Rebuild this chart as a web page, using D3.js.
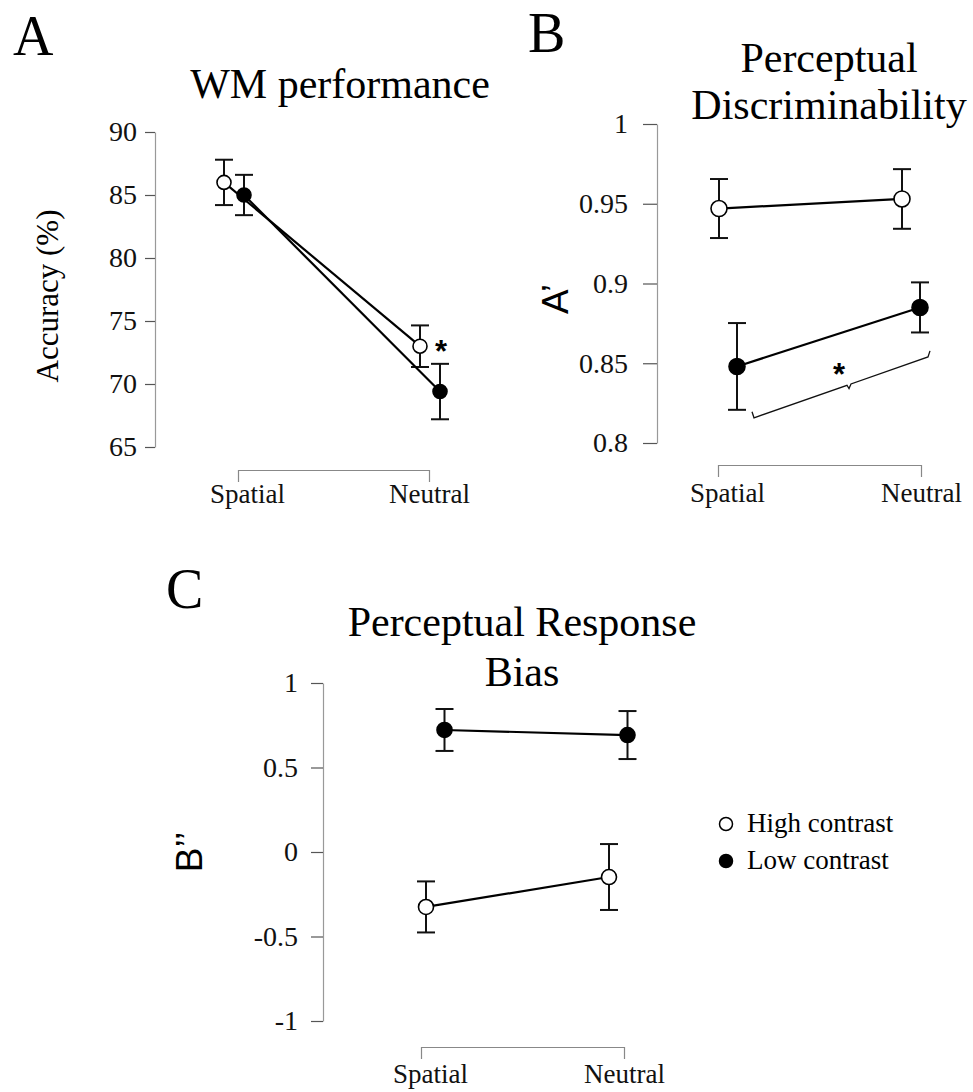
<!DOCTYPE html>
<html>
<head>
<meta charset="utf-8">
<script src="https://cdn.jsdelivr.net/npm/d3@7"></script>
<style>
  body { margin: 0; background: #fff; }
</style>
</head>
<body>
<div id="chart"></div>
<script>
// ---- data ----
const categories = ["Spatial", "Neutral"];
const legendLabels = ["High contrast", "Low contrast"];

// A: WM performance, accuracy (%)
const wmHigh = [86.0, 73.0];
const wmHighErr = [1.8, 1.65];
const wmLow = [85.0, 69.4];
const wmLowErr = [1.6, 2.2];
const wmTicks = [65, 70, 75, 80, 85, 90];

// B: perceptual discriminability, A'
const apHigh = [0.947, 0.953];
const apHighErr = [0.0185, 0.0187];
const apLow = [0.848, 0.885];
const apLowErr = [0.0272, 0.0157];
const apTicks = [0.8, 0.85, 0.9, 0.95, 1];

// C: perceptual response bias, B''
const bpHigh = [-0.325, -0.148];
const bpHighErr = [0.151, 0.195];
const bpLow = [0.722, 0.692];
const bpLowErr = [0.124, 0.142];
const bpTicks = [-1, -0.5, 0, 0.5, 1];

const serif = "'Liberation Serif', 'Times New Roman', Times, serif";
const sans = "'Liberation Sans', Arial, Helvetica, sans-serif";

const W = 973, H = 1092;
const svg = d3.select("#chart").append("svg")
  .attr("width", W)
  .attr("height", H)
  .style("display", "block");

// --- per-panel layout ---
const panels = [
  {
    letter: "A", letterPos: [13, 55],
    title: ["WM performance"], titleX: 340, titleY: [98],
    axisX: 155, yDomain: [65, 90], yRange: [447, 132], ticks: wmTicks,
    tickLen: 10, tickPad: 8,
    bracketY: 470, bracket: [238, 429], pts: [224, 420], dodge: 20, r: 7,
    labelY: 503,
    yLabel: "Accuracy (%)", yLabelFont: serif, yLabelSize: 31, yLabelPos: [58, 296],
    series: [
      { v: wmHigh, e: wmHighErr, fill: "#fff" },
      { v: wmLow, e: wmLowErr, fill: "#000" }
    ]
  },
  {
    letter: "B", letterPos: [528, 52],
    title: ["Perceptual", "Discriminability"], titleX: 829, titleY: [72, 119],
    axisX: 657, yDomain: [0.8, 1], yRange: [443, 124], ticks: apTicks,
    tickLen: 14, tickPad: 15,
    bracketY: 465, bracket: [718, 921], pts: [719, 902], dodge: 18, r: 8,
    labelY: 502,
    yLabel: "A\u2019", yLabelFont: sans, yLabelSize: 37, yLabelPos: [568, 299],
    series: [
      { v: apHigh, e: apHighErr, fill: "#fff" },
      { v: apLow, e: apLowErr, fill: "#000" }
    ]
  },
  {
    letter: "C", letterPos: [166, 608],
    title: ["Perceptual Response", "Bias"], titleX: 522, titleY: [636, 686],
    axisX: 323, yDomain: [-1, 1], yRange: [1021, 683], ticks: bpTicks,
    tickLen: 12, tickPad: 13,
    bracketY: 1047, bracket: [421, 624], pts: [426, 609], dodge: 18.5, r: 7.5,
    labelY: 1083,
    yLabel: "B\u2019\u2019", yLabelFont: sans, yLabelSize: 37, yLabelPos: [202, 852],
    series: [
      { v: bpHigh, e: bpHighErr, fill: "#fff" },
      { v: bpLow, e: bpLowErr, fill: "#000" }
    ]
  }
];

const capHalf = 9;

panels.forEach(p => {
  const g = svg.append("g");

  const y = d3.scaleLinear().domain(p.yDomain).range(p.yRange);
  const xAxisScale = d3.scalePoint().domain(categories).range(p.bracket);
  const xPts = d3.scalePoint().domain(categories).range(p.pts);
  p.y = y; p.xPts = xPts;

  // panel letter
  g.append("text")
    .attr("x", p.letterPos[0])
    .attr("y", p.letterPos[1])
    .style("font-family", serif)
    .style("font-size", "56px")
    .text(p.letter);

  // title
  g.selectAll(".title")
    .data(p.title)
    .join("text")
    .attr("class", "title")
    .attr("x", p.titleX)
    .attr("y", (d, i) => p.titleY[i])
    .attr("text-anchor", "middle")
    .style("font-family", serif)
    .style("font-size", "42px")
    .text(d => d);

  // y axis
  const yAxis = g.append("g")
    .attr("transform", `translate(${p.axisX},0)`)
    .call(d3.axisLeft(y)
      .tickValues(p.ticks)
      .tickFormat(d => String(d))
      .tickSize(p.tickLen)
      .tickSizeOuter(0)
      .tickPadding(p.tickPad));
  yAxis.select(".domain").attr("stroke", "#999").attr("stroke-width", 1.2);
  yAxis.selectAll(".tick line").attr("stroke", "#555").attr("stroke-width", 1.2);
  yAxis.selectAll(".tick text")
    .attr("x", -(p.tickLen + p.tickPad))
    .attr("fill", "#111")
    .style("font-family", serif)
    .style("font-size", "28px");

  // x "bracket" axis
  const xAxis = g.append("g")
    .attr("transform", `translate(0,${p.bracketY})`)
    .call(d3.axisBottom(xAxisScale).tickSize(12).tickSizeOuter(0));
  xAxis.select(".domain").attr("stroke", "#888").attr("stroke-width", 1.2);
  xAxis.selectAll(".tick line").attr("stroke", "#888").attr("stroke-width", 1.2);
  xAxis.selectAll(".tick text")
    .attr("y", p.labelY - p.bracketY)
    .attr("dy", 0)
    .attr("dx", d => d === "Spatial" ? 9 : 0)
    .attr("fill", "#111")
    .style("font-family", serif)
    .style("font-size", "27px");

  // y label
  g.append("text")
    .attr("transform", `translate(${p.yLabelPos[0]},${p.yLabelPos[1]}) rotate(-90)`)
    .attr("text-anchor", "middle")
    .style("font-family", p.yLabelFont)
    .style("font-size", p.yLabelSize + "px")
    .text(p.yLabel);

  const px = (i, cat) => xPts(cat) + (i === 1 ? p.dodge : 0);

  const line = d3.line()
    .x(d => d.x)
    .y(d => y(d.v));

  p.series.forEach((s, i) => {
    const pts = categories.map((c, j) => ({ x: px(i, c), v: s.v[j], e: s.e[j] }));

    g.append("path")
      .datum(pts)
      .attr("d", line)
      .attr("fill", "none")
      .attr("stroke", "#000")
      .attr("stroke-width", 2.2);

    const eb = g.append("g").selectAll("g")
      .data(pts)
      .join("g")
      .attr("stroke", "#111")
      .attr("stroke-width", 2);
    eb.append("line")
      .attr("x1", d => d.x).attr("x2", d => d.x)
      .attr("y1", d => y(d.v - d.e)).attr("y2", d => y(d.v + d.e));
    eb.append("line")
      .attr("x1", d => d.x - capHalf).attr("x2", d => d.x + capHalf)
      .attr("y1", d => y(d.v + d.e)).attr("y2", d => y(d.v + d.e));
    eb.append("line")
      .attr("x1", d => d.x - capHalf).attr("x2", d => d.x + capHalf)
      .attr("y1", d => y(d.v - d.e)).attr("y2", d => y(d.v - d.e));
    s.pts = pts;
  });

  // circles on top
  p.series.forEach(s => {
    g.append("g").selectAll("circle")
      .data(s.pts)
      .join("circle")
      .attr("cx", d => d.x)
      .attr("cy", d => y(d.v))
      .attr("r", p.r)
      .attr("fill", s.fill)
      .attr("stroke", "#000")
      .attr("stroke-width", 1.6);
  });
});

// --- significance marks ---
const star = (x, yCenter) => svg.append("text")
  .attr("x", x)
  .attr("y", yCenter + 18)
  .attr("text-anchor", "middle")
  .style("font-family", sans)
  .style("font-weight", "bold")
  .style("font-size", "31px")
  .text("*");

// A: star next to the neutral points
{
  const p = panels[0];
  star(p.xPts("Neutral") + p.dodge + 1, p.y(73.2));
}

// B: brace under the low-contrast line
{
  const p = panels[1];
  const xl = p.xPts("Spatial") + p.dodge + 15;
  const xr = p.xPts("Neutral") + p.dodge + 10;
  const yl = p.y(0.8158), yr = p.y(0.854);
  const slope = (yr - yl) / (xr - xl);
  const mx = (xl + xr) / 2 + 8;
  const my = yl + slope * (mx - xl);
  const path = d3.path();
  path.moveTo(xl, yl - 6);
  path.lineTo(xl + 2, yl);
  path.lineTo(mx - 2, my - slope * 2);
  path.lineTo(mx, my + 4);
  path.lineTo(mx + 2, my + slope * 2);
  path.lineTo(xr - 2, yr);
  path.lineTo(xr, yr - 6);
  svg.append("path")
    .attr("d", path.toString())
    .attr("fill", "none")
    .attr("stroke", "#111")
    .attr("stroke-width", 1.3);
  star(mx - 10, p.y(0.8475));
}

// --- legend ---
const legend = svg.append("g").attr("transform", "translate(726,824)");
const legendItems = legend.selectAll("g")
  .data(legendLabels)
  .join("g")
  .attr("transform", (d, i) => `translate(0,${i * 37})`);
legendItems.append("circle")
  .attr("r", 6.5)
  .attr("fill", (d, i) => i === 0 ? "#fff" : "#000")
  .attr("stroke", "#000")
  .attr("stroke-width", 1.5);
legendItems.append("text")
  .attr("x", 21)
  .attr("y", 8)
  .style("font-family", serif)
  .style("font-size", "27px")
  .text(d => d);
</script>
</body>
</html>
